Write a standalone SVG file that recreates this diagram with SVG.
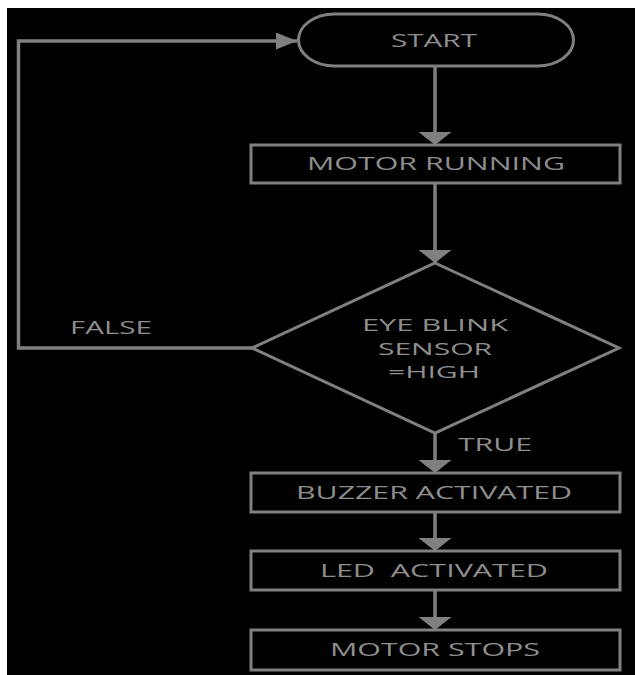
<svg xmlns="http://www.w3.org/2000/svg" width="635" height="675" viewBox="0 0 635 675">
<style>
.shape{fill:none;stroke:#808080;stroke-width:3}
.conn{fill:none;stroke:#808080;stroke-width:3.5}
.t{font-family:"Open Sans","Noto Sans","DejaVu Sans",sans-serif;font-size:19px;fill:#8e8e8e;text-anchor:middle}
.d{font-size:17px}
.lbl{font-family:"Open Sans","Noto Sans","DejaVu Sans",sans-serif;font-size:19px;fill:#8e8e8e}
</style>
<defs>
<marker id="ahV" markerUnits="userSpaceOnUse" markerWidth="14" markerHeight="34" refX="13" refY="16.5" orient="auto" viewBox="0 0 14 34">
<path d="M0,0 L13,16.5 L0,33 Z" fill="#808080"/>
</marker>
<marker id="ahH" markerUnits="userSpaceOnUse" markerWidth="22" markerHeight="18" refX="21" refY="8.5" orient="auto" viewBox="0 0 22 18">
<path d="M0,0 L21,8.5 L0,17 Z" fill="#808080"/>
</marker>
</defs>
<rect x="0" y="0" width="635" height="675" fill="#ffffff"/>
<rect x="7" y="8" width="628" height="667" fill="#000000"/>
<g id="connectors">
<path class="conn" d="M435,67 V145" marker-end="url(#ahV)"/>
<path class="conn" d="M435,184 V263" marker-end="url(#ahV)"/>
<path class="conn" d="M435,433 V473" marker-end="url(#ahV)"/>
<path class="conn" d="M435,513 V551" marker-end="url(#ahV)"/>
<path class="conn" d="M435,591 V630" marker-end="url(#ahV)"/>
<path class="conn" d="M252,348 H18.5 V41 H297" marker-end="url(#ahH)"/>
<text class="lbl" x="70" y="334" textLength="82" lengthAdjust="spacingAndGlyphs">FALSE</text>
<text class="lbl" x="458" y="451" textLength="74" lengthAdjust="spacingAndGlyphs">TRUE</text>
</g>
<g id="start">
<rect class="shape" x="298.5" y="14" width="275" height="52" rx="36" ry="26"/>
<text class="t" x="434" y="47" textLength="86" lengthAdjust="spacingAndGlyphs">START</text>
</g>
<g id="motor-running">
<rect class="shape" x="251" y="145" width="369" height="38"/>
<text class="t" x="436" y="170" textLength="258" lengthAdjust="spacingAndGlyphs">MOTOR RUNNING</text>
</g>
<g id="decision">
<polygon class="shape" points="435,263 619,348 435,433 252,348"/>
<text class="t d" x="435" y="331" textLength="146" lengthAdjust="spacingAndGlyphs">EYE BLINK</text>
<text class="t d" x="435" y="355" textLength="114" lengthAdjust="spacingAndGlyphs">SENSOR</text>
<text class="t d" x="434" y="378" textLength="92" lengthAdjust="spacingAndGlyphs">=HIGH</text>
</g>
<g id="buzzer">
<rect class="shape" x="251" y="473" width="369" height="39"/>
<text class="t" x="434" y="499" textLength="276" lengthAdjust="spacingAndGlyphs">BUZZER ACTIVATED</text>
</g>
<g id="led">
<rect class="shape" x="251" y="551" width="369" height="39"/>
<text class="t" x="434" y="577" textLength="228" lengthAdjust="spacingAndGlyphs" xml:space="preserve" style="white-space:pre">LED  ACTIVATED</text>
</g>
<g id="motor-stops">
<rect class="shape" x="251" y="630" width="369" height="40"/>
<text class="t" x="435" y="656" textLength="210" lengthAdjust="spacingAndGlyphs">MOTOR STOPS</text>
</g>
</svg>
